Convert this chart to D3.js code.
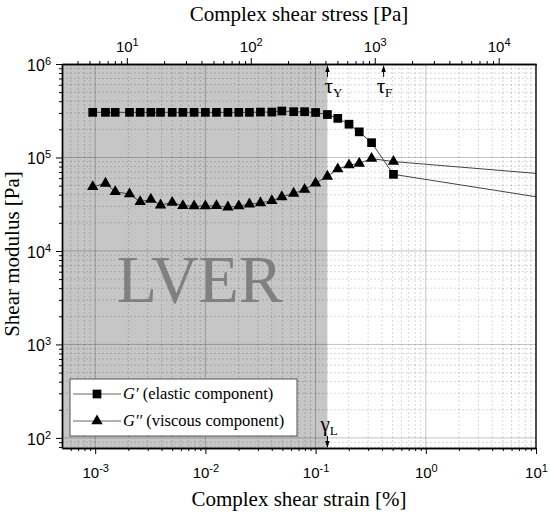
<!DOCTYPE html>
<html>
<head>
<meta charset="utf-8">
<script src="https://cdn.jsdelivr.net/npm/d3@7"></script>
<style>
  body { margin: 0; background: #fff; }
  svg { display: block; font-family: "Liberation Serif", "DejaVu Serif", serif; }
</style>
</head>
<body>
<div id="chart"></div>
<script>
// Amplitude sweep
const strain = [9.5e-4, 1.24e-3, 1.52e-3, 2.05e-3, 2.56e-3, 3.2e-3, 3.92e-3, 5.0e-3, 6.25e-3,
    7.9e-3, 0.01, 0.0126, 0.016, 0.0201, 0.0251, 0.0316, 0.0401, 0.0494, 0.0632, 0.0795,
    0.1, 0.128, 0.159, 0.201, 0.249, 0.322, 0.509];
const storageModulus = [3.04e5, 3.04e5, 3.04e5, 3.04e5, 3.04e5, 3.04e5, 3.04e5, 3.04e5, 3.04e5,
    3.04e5, 3.04e5, 3.04e5, 3.04e5, 3.04e5, 3.04e5, 3.06e5, 3.06e5, 3.14e5, 3.09e5, 3.09e5,
    3.03e5, 2.88e5, 2.62e5, 2.27e5, 1.88e5, 1.44e5, 6.6e4];
const lossModulus = [4.86e4, 5.28e4, 4.3e4, 4.06e4, 3.36e4, 3.56e4, 3.09e4, 3.3e4, 3.04e4,
    3.02e4, 3.02e4, 3.04e4, 2.94e4, 3.02e4, 3.17e4, 3.27e4, 3.44e4, 3.79e4, 4.13e4, 4.55e4,
    5.32e4, 6.28e4, 7.52e4, 8.29e4, 8.65e4, 9.73e4, 9.04e4];
// the curves run on past the right edge of the frame
const tailStrain = [0.509, 10];
const tailStorage = [6.6e4, 3.8e4];
const tailLoss = [9.04e4, 6.76e4];

// limits marked on the chart
const yieldStrain = 0.128;   // gamma_L, end of the LVER
const yieldStress = 416;     // tau_Y
const flowStress = 1180;     // tau_F

const strainTicks = [1e-3, 1e-2, 1e-1, 1, 10];
const stressTicks = [10, 100, 1000, 10000];
const modulusTicks = [1e2, 1e3, 1e4, 1e5, 1e6];
const strainDomain = [5e-4, 10];
const stressDomain = [3, 2e4];
const modulusDomain = [78, 1e6];

const legendLabels = [
    {sym: "G\u2032", text: " (elastic component)", shape: d3.symbolSquare},
    {sym: "G\u2032\u2032", text: " (viscous component)", shape: d3.symbolTriangle}
];

const width = 550, height = 518;
const margin = {top: 64, right: 14, bottom: 70, left: 62};
const innerW = width - margin.left - margin.right,
      innerH = height - margin.top - margin.bottom;

const svg = d3.select("#chart").append("svg")
    .attr("width", width)
    .attr("height", height);
const g = svg.append("g")
    .attr("transform", `translate(${margin.left}, ${margin.top})`);

const x = d3.scaleLog().domain(strainDomain).range([0, innerW]);
const xTop = d3.scaleLog().domain(stressDomain).range([0, innerW]);
const y = d3.scaleLog().domain(modulusDomain).range([innerH, 0]);

// minor ticks at 2..9 of every decade inside a domain
function minorTicks(domain) {
    let out = [];
    let lo = Math.floor(Math.log10(domain[0])), hi = Math.ceil(Math.log10(domain[1]));
    for (let e = lo; e < hi; e++) {
        for (let k = 2; k <= 9; k++) {
            let v = k * Math.pow(10, e);
            if (v > domain[0] * 1.001 && v < domain[1] * 0.999) out.push(v);
        }
    }
    return out;
}

// "10" with a raised exponent
function powerLabel(sel) {
    sel.each(function(d) {
        let t = d3.select(this);
        t.text(null);
        t.append("tspan").text("10");
        t.append("tspan").attr("dy", "-0.55em").style("font-size", "11px")
            .text(Math.round(Math.log10(d)));
    });
}

// LVER shading
g.append("rect")
    .attr("x", 0).attr("y", 0)
    .attr("width", x(yieldStrain))
    .attr("height", innerH)
    .attr("fill", "#c6c6c6");

// grid
let grid = g.append("g");
grid.selectAll(".vminor").data(minorTicks(strainDomain)).enter().append("line")
    .attr("x1", d => x(d)).attr("x2", d => x(d))
    .attr("y1", 0).attr("y2", innerH)
    .attr("stroke", "rgba(0,0,0,0.16)").attr("stroke-dasharray", "2,2");
grid.selectAll(".hminor").data(minorTicks(modulusDomain)).enter().append("line")
    .attr("y1", d => y(d)).attr("y2", d => y(d))
    .attr("x1", 0).attr("x2", innerW)
    .attr("stroke", "rgba(0,0,0,0.16)").attr("stroke-dasharray", "2,2");
grid.selectAll(".vmajor").data(strainTicks.slice(0, -1)).enter().append("line")
    .attr("x1", d => x(d)).attr("x2", d => x(d))
    .attr("y1", 0).attr("y2", innerH)
    .attr("stroke", "rgba(0,0,0,0.24)");
grid.selectAll(".hmajor").data(modulusTicks.slice(0, -1)).enter().append("line")
    .attr("y1", d => y(d)).attr("y2", d => y(d))
    .attr("x1", 0).attr("x2", innerW)
    .attr("stroke", "rgba(0,0,0,0.24)");

// big LVER label
g.append("text")
    .attr("x", x(8.9e-3))
    .attr("y", y(2850))
    .attr("text-anchor", "middle")
    .attr("textLength", 166)
    .attr("lengthAdjust", "spacingAndGlyphs")
    .style("font-size", "68px")
    .attr("fill", "#808080")
    .text("LVER");

// data lines, clipped to the frame
svg.append("defs").append("clipPath").attr("id", "plotclip")
    .append("rect").attr("width", innerW).attr("height", innerH);

let line = d3.line().x(d => x(d[0])).y(d => y(d[1]));
let series = [
    {values: storageModulus, tail: tailStorage, shape: d3.symbolSquare, size: 76},
    {values: lossModulus, tail: tailLoss, shape: d3.symbolTriangle, size: 56}
];
let plot = g.append("g").attr("clip-path", "url(#plotclip)");
series.forEach(function(s) {
    let pts = strain.map((v, i) => [v, s.values[i]]);
    plot.append("path").datum(pts)
        .attr("d", line).attr("fill", "none")
        .attr("stroke", "#444").attr("stroke-width", 1);
    plot.append("path").datum(tailStrain.map((v, i) => [v, s.tail[i]]))
        .attr("d", line).attr("fill", "none")
        .attr("stroke", "#444").attr("stroke-width", 1);
    plot.selectAll(null).data(pts).enter().append("path")
        .attr("transform", d => `translate(${x(d[0])}, ${y(d[1])})`)
        .attr("d", d3.symbol().type(s.shape).size(s.size))
        .attr("fill", "#000");
});

// axes
let axisBottom = g.append("g").attr("transform", `translate(0, ${innerH})`)
    .call(d3.axisBottom(x).tickValues(strainTicks).tickSize(6).tickSizeOuter(0).tickPadding(8));
g.append("g").attr("transform", `translate(0, ${innerH})`)
    .call(d3.axisBottom(x).tickValues(minorTicks(strainDomain)).tickSize(3).tickFormat("").tickSizeOuter(0));
let axisTop = g.append("g")
    .call(d3.axisTop(xTop).tickValues(stressTicks).tickSize(6).tickSizeOuter(0).tickPadding(6));
g.append("g")
    .call(d3.axisTop(xTop).tickValues(minorTicks(stressDomain)).tickSize(3).tickFormat("").tickSizeOuter(0));
let axisLeft = g.append("g")
    .call(d3.axisLeft(y).tickValues(modulusTicks).tickSize(6).tickSizeOuter(0).tickPadding(5));
g.append("g")
    .call(d3.axisLeft(y).tickValues(minorTicks(modulusDomain)).tickSize(3).tickFormat("").tickSizeOuter(0));
g.append("line")
    .attr("x1", innerW).attr("x2", innerW).attr("y1", 0).attr("y2", innerH)
    .attr("stroke", "#000").attr("stroke-width", 1.4);

[axisBottom, axisTop, axisLeft].forEach(function(a) {
    a.selectAll(".tick text").style("font-size", "15px").attr("fill", "#000")
        .style("font-family", "inherit").call(powerLabel);
});
axisBottom.selectAll(".tick text").attr("dy", "1.05em");
axisLeft.selectAll(".tick text").style("font-size", "16px").attr("dy", "0.4em");
g.selectAll(".domain").attr("stroke-width", 1.4);

// axis titles
svg.append("text")
    .attr("x", margin.left + innerW / 2).attr("y", 21)
    .attr("text-anchor", "middle").style("font-size", "21px")
    .text("Complex shear stress [Pa]");
svg.append("text")
    .attr("x", margin.left + innerW / 2).attr("y", 506)
    .attr("text-anchor", "middle").style("font-size", "21px")
    .text("Complex shear strain [%]");
svg.append("text")
    .attr("transform", `translate(19, ${margin.top + innerH / 2 - 2}) rotate(-90)`)
    .attr("text-anchor", "middle").style("font-size", "21px")
    .text("Shear modulus [Pa]");

// arrows marking the limits
function arrow(px, yTip, dir) {
    // dir = -1 points up, 1 points down
    let len = 12, head = 7;
    g.append("line")
        .attr("x1", px).attr("x2", px)
        .attr("y1", yTip - dir * len).attr("y2", yTip - dir * head)
        .attr("stroke", "#000").attr("stroke-width", 1);
    g.append("path")
        .attr("d", `M${px},${yTip} L${px - 2.2},${yTip - dir * head} L${px + 2.2},${yTip - dir * head} Z`)
        .attr("fill", "#000");
}
function subLabel(px, py, main, sub) {
    let t = g.append("text").attr("x", px).attr("y", py).style("font-size", "21px");
    t.append("tspan").text(main);
    t.append("tspan").attr("dy", "0.3em").style("font-size", "13px").text(sub);
}
arrow(xTop(yieldStress), 1, -1);
arrow(xTop(flowStress), 1, -1);
arrow(x(yieldStrain), innerH, 1);
subLabel(xTop(yieldStress) - 3, 29, "\u03c4", "Y");
subLabel(xTop(flowStress) - 7, 29, "\u03c4", "F");
subLabel(x(yieldStrain) - 7, innerH - 17, "\u03b3", "L");

// legend
let legend = g.append("g").attr("transform", "translate(8, 315)");
legend.append("rect")
    .attr("width", 227).attr("height", 57)
    .attr("fill", "#fff").attr("stroke", "#555").attr("stroke-width", 1);
legendLabels.forEach(function(d, i) {
    let row = legend.append("g").attr("transform", `translate(0, ${15 + i * 27})`);
    row.append("line").attr("x1", 3).attr("x2", 51)
        .attr("stroke", "#666").attr("stroke-width", 1);
    row.append("path").attr("transform", "translate(27, 0)")
        .attr("d", d3.symbol().type(d.shape).size(i === 0 ? 76 : 56))
        .attr("fill", "#000");
    let t = row.append("text").attr("x", 53).attr("y", 5).style("font-size", "16.5px");
    t.append("tspan").style("font-style", "italic").text(d.sym);
    t.append("tspan").text(d.text);
});
</script>
</body>
</html>
